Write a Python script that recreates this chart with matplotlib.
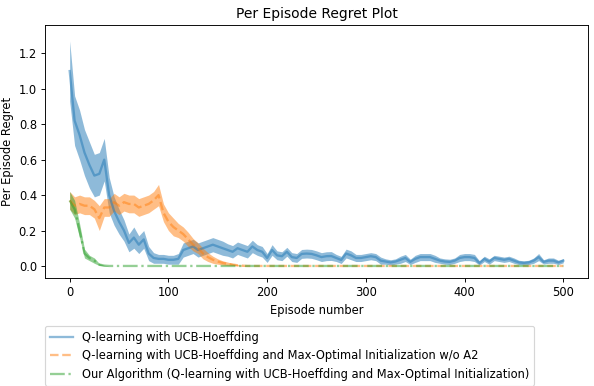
import numpy as np
import matplotlib
matplotlib.use("Agg")
import matplotlib.pyplot as plt

episodes = list(range(0, 501, 5))

ucb_mean = [1.10, 0.82, 0.74, 0.64, 0.57, 0.51, 0.52, 0.60, 0.40, 0.31,
            0.25, 0.20, 0.13, 0.16, 0.12, 0.15, 0.07, 0.045, 0.04, 0.04,
            0.035, 0.035, 0.04, 0.09, 0.10, 0.11, 0.09, 0.10, 0.11, 0.12,
            0.11, 0.10, 0.09, 0.08, 0.10, 0.09, 0.08, 0.11, 0.09, 0.08,
            0.045, 0.09, 0.06, 0.055, 0.08, 0.05, 0.045, 0.068, 0.07, 0.068,
            0.06, 0.05, 0.055, 0.056, 0.045, 0.034, 0.07, 0.06, 0.045, 0.045,
            0.05, 0.055, 0.05, 0.03, 0.025, 0.02, 0.025, 0.035, 0.045, 0.023,
            0.04, 0.05, 0.05, 0.05, 0.04, 0.03, 0.025, 0.023, 0.03, 0.045,
            0.05, 0.05, 0.045, 0.017, 0.04, 0.025, 0.045, 0.04, 0.035, 0.04,
            0.03, 0.02, 0.017, 0.02, 0.03, 0.05, 0.023, 0.03, 0.03, 0.02,
            0.03]
ucb_err = [0.17, 0.14, 0.14, 0.13, 0.13, 0.12, 0.12, 0.12, 0.10, 0.08,
           0.07, 0.06, 0.05, 0.06, 0.05, 0.05, 0.04, 0.03, 0.025, 0.025,
           0.025, 0.025, 0.03, 0.04, 0.04, 0.04, 0.04, 0.04, 0.04, 0.04,
           0.04, 0.04, 0.035, 0.035, 0.035, 0.035, 0.035, 0.035, 0.03, 0.03,
           0.025, 0.03, 0.025, 0.025, 0.025, 0.025, 0.025, 0.025, 0.025, 0.025,
           0.025, 0.025, 0.025, 0.025, 0.02, 0.02, 0.025, 0.025, 0.02, 0.02,
           0.02, 0.02, 0.02, 0.02, 0.015, 0.015, 0.015, 0.02, 0.02, 0.015,
           0.02, 0.02, 0.02, 0.02, 0.02, 0.015, 0.015, 0.015, 0.015, 0.02,
           0.02, 0.02, 0.02, 0.012, 0.015, 0.015, 0.015, 0.015, 0.015, 0.015,
           0.015, 0.012, 0.012, 0.012, 0.015, 0.02, 0.012, 0.015, 0.015, 0.012,
           0.012]

noa2_mean = [0.37, 0.34, 0.35, 0.34, 0.34, 0.32, 0.27, 0.33, 0.33, 0.36,
             0.34, 0.36, 0.35, 0.35, 0.33, 0.34, 0.35, 0.37, 0.40, 0.30,
             0.25, 0.22, 0.20, 0.18, 0.15, 0.12, 0.10, 0.07, 0.05, 0.035,
             0.025, 0.017, 0.012, 0.008, 0.004, 0.002] + [0.0] * 65
noa2_err = [0.05, 0.05, 0.05, 0.05, 0.05, 0.05, 0.07, 0.05, 0.05, 0.05,
            0.05, 0.05, 0.05, 0.05, 0.05, 0.05, 0.05, 0.05, 0.06, 0.05,
            0.05, 0.05, 0.04, 0.04, 0.04, 0.035, 0.03, 0.03, 0.025, 0.02,
            0.015, 0.012, 0.01, 0.006, 0.004, 0.002] + [0.0] * 65

ours_mean = [0.37, 0.32, 0.20, 0.07, 0.045, 0.03, 0.008, 0.002] + [0.0] * 93
ours_err = [0.05, 0.05, 0.04, 0.025, 0.015, 0.015, 0.006, 0.002] + [0.0] * 93

labels = ["Q-learning with UCB-Hoeffding",
          "Q-learning with UCB-Hoeffding and Max-Optimal Initialization w/o A2",
          "Our Algorithm (Q-learning with UCB-Hoeffding and Max-Optimal Initialization)"]
colors = ["tab:blue", "tab:orange", "tab:green"]
styles = ["-", "--", "-."]

DPI = 83
fig = plt.figure(figsize=(594 / DPI, 386 / DPI), dpi=DPI)
ax = fig.add_axes([45 / 594, 1 - 278 / 386, (588 - 45) / 594, (278 - 25) / 386])

x = np.array(episodes)
for m, e, c, ls, lab in zip([ucb_mean, noa2_mean, ours_mean],
                            [ucb_err, noa2_err, ours_err],
                            colors, styles, labels):
    m = np.array(m)
    e = np.array(e)
    ax.plot(x, m, color=c, linestyle=ls, linewidth=2, alpha=0.5, label=lab)
    ax.fill_between(x, m - e, m + e, color=c, alpha=0.5, linewidth=0)

ax.set_xlim(-25, 525)
ax.set_ylim(-0.068, 1.36)
ax.set_xticks([0, 100, 200, 300, 400, 500])
ax.set_yticks([0.0, 0.2, 0.4, 0.6, 0.8, 1.0, 1.2])
ax.set_title("Per Episode Regret Plot")
ax.set_xlabel("Episode number")
ax.set_ylabel("Per Episode Regret")
ax.legend(loc="upper left", bbox_to_anchor=(45 / 594, 1 - 326 / 386),
          bbox_transform=fig.transFigure, borderaxespad=0)

fig.savefig("out.png", dpi=DPI)
